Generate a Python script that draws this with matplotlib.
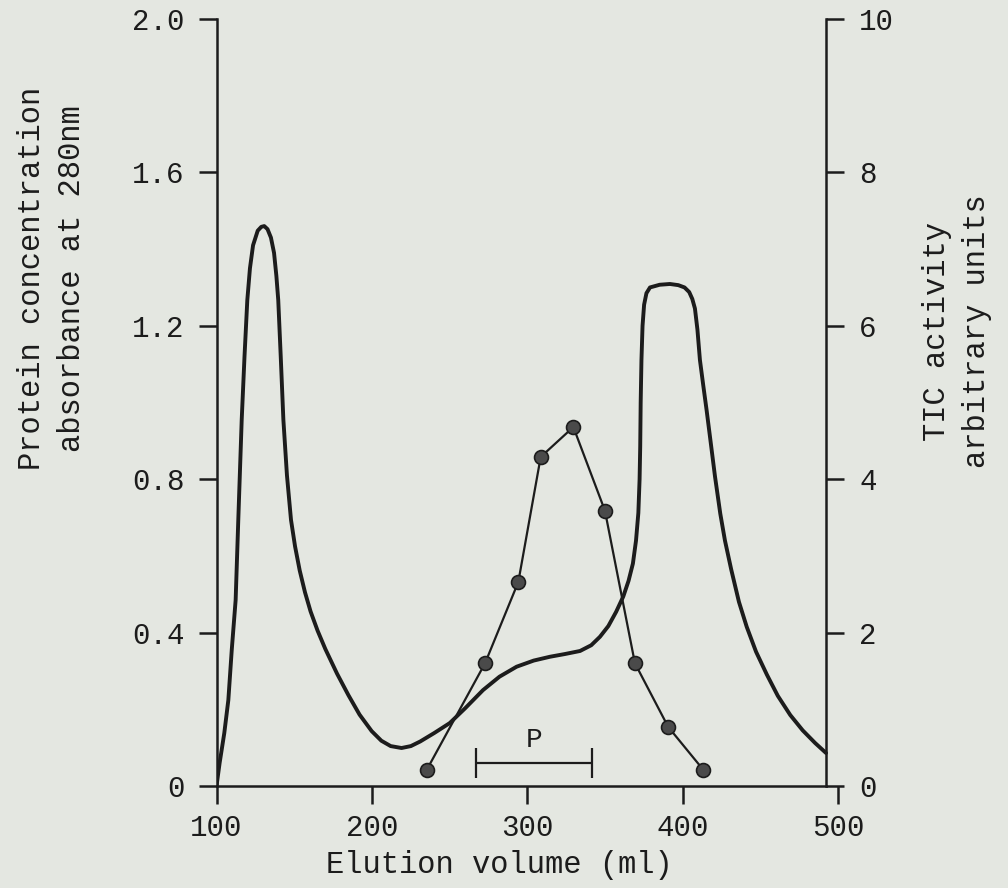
import numpy as np
import matplotlib.pyplot as plt

plt.rcParams['font.family'] = ['Liberation Mono', 'DejaVu Sans Mono']

# protein elution profile (absorbance at 280 nm)
elution_ml = [100, 102, 105, 107.6, 109.8, 112.3, 114.0, 116.2, 118.0, 119.8,
              121.5, 123.5, 126.5, 128.8, 130.7, 132.8, 135.0, 137.0, 138.5, 139.7,
              141.3, 143.0, 145.3, 147.9, 150.5, 153.5, 156.9, 160.5, 165.0, 170.0,
              177.5, 184.8, 192.0, 199.8, 206.0, 212.0, 219.0, 225.0, 231.0, 240.0,
              250.0, 260.0, 271.4, 282.0, 293.0, 304.0, 314.5, 324.0, 333.8, 341.0,
              346.6, 352.0, 357.0, 361.6, 365.0, 367.8, 369.8, 371.3, 372.1, 372.5,
              372.8, 373.3, 374.0, 375.0, 376.5, 378.8, 385.0, 391.6, 397.0, 401.0,
              404.0, 406.0, 407.7, 409.3, 410.9, 413.0, 415.2, 417.8, 420.6, 424.0,
              427.0, 431.0, 436.0, 441.0, 447.0, 454.0, 461.0, 469.0, 477.0, 485.0,
              492.0]
absorbance = [0, 0.06, 0.138, 0.224, 0.355, 0.485, 0.694, 0.955, 1.12, 1.267,
              1.35, 1.41, 1.448, 1.458, 1.46, 1.452, 1.43, 1.39, 1.33, 1.267,
              1.12, 0.955, 0.81, 0.694, 0.625, 0.562, 0.505, 0.455, 0.405, 0.357,
              0.293, 0.237, 0.186, 0.143, 0.118, 0.104, 0.099, 0.104, 0.116, 0.138,
              0.164, 0.203, 0.250, 0.285, 0.311, 0.327, 0.337, 0.344, 0.352, 0.367,
              0.389, 0.417, 0.454, 0.494, 0.535, 0.58, 0.64, 0.712, 0.80, 0.885,
              1.0, 1.111, 1.2, 1.255, 1.285, 1.300, 1.307, 1.309, 1.306, 1.300,
              1.288, 1.27, 1.245, 1.19, 1.111, 1.046, 0.980, 0.897, 0.807, 0.71,
              0.64, 0.565, 0.48, 0.415, 0.35, 0.29, 0.235, 0.185, 0.145, 0.112,
              0.086]

# TIC activity of the fractions
fraction_ml = [235.2, 272.7, 294.1, 308.5, 329.5, 349.8, 369.1, 390.5, 413.1]
activity = [0.21, 1.6, 2.66, 4.29, 4.68, 3.59, 1.6, 0.77, 0.21]

# pooled fractions
pool_ml = [266.9, 341.3]
pool_level = 0.061

x_ticks = [100, 200, 300, 400, 500]
left_ticks = [0, 0.4, 0.8, 1.2, 1.6, 2.0]
left_labels = ['0', '0.4', '0.8', '1.2', '1.6', '2.0']
right_ticks = [0, 2, 4, 6, 8, 10]

paper = '#e4e7e1'
ink = '#1c1c1c'

fig = plt.figure(figsize=(10.08, 8.88), dpi=100, facecolor=paper)
ax = fig.add_axes([0.2148, 0.1149, 0.617, 0.8637], facecolor=paper)
ax2 = ax.twinx()

ax.plot(elution_ml, absorbance, color=ink, lw=2.8, solid_capstyle='round',
        solid_joinstyle='round')

ax2.plot(fraction_ml, activity, color=ink, lw=1.6, marker='o', markersize=10,
         markerfacecolor='#4a4a4a', markeredgecolor=ink, markeredgewidth=1.2)

centre = (pool_ml[0] + pool_ml[1]) / 2
half = (pool_ml[1] - pool_ml[0]) / 2
ax.errorbar(centre, pool_level, xerr=half, fmt='none', ecolor=ink, elinewidth=1.6,
            capsize=11, capthick=1.6)
ax.text(centre, pool_level + 0.025, 'P', ha='center', va='bottom', fontsize=20,
        color=ink)

ax.set_xlim(100, 500)
ax.set_ylim(0, 2.0)
ax2.set_ylim(0, 10)

ax.set_xticks(x_ticks)
ax.set_yticks(left_ticks)
ax.set_yticklabels(left_labels)
ax2.set_yticks(right_ticks)

for a in (ax, ax2):
    a.spines['top'].set_visible(False)
    for s in a.spines.values():
        s.set_linewidth(1.8)
        s.set_color(ink)
ax.spines['right'].set_visible(False)
ax2.spines['left'].set_visible(False)
ax2.spines['bottom'].set_visible(False)
ax.spines['bottom'].set_bounds(100, 492)
ax2.spines['right'].set_position(('data', 492))

ax.tick_params(axis='both', direction='out', length=13, width=1.8, color=ink,
               labelsize=21, labelcolor=ink)
ax.tick_params(axis='y', pad=10)
ax.tick_params(axis='x', pad=7)
ax2.tick_params(axis='y', direction='out', length=13, width=1.8, color=ink,
                labelsize=21, labelcolor=ink, pad=11)

ax.set_xlabel('Elution volume (ml)', fontsize=22, color=ink)
ax.xaxis.set_label_coords(0.454, -0.083)

ax.set_ylabel('Protein concentration\nabsorbance at 280nm', fontsize=22,
              color=ink, linespacing=1.45)
ax.yaxis.set_label_coords(-0.208, 0.662)

ax2.set_ylabel('TIC activity\narbitrary units', fontsize=22, color=ink,
               linespacing=1.45, rotation=90)
ax2.yaxis.set_label_coords(1.134, 0.593)

fig.savefig('out.png', dpi=100, facecolor=paper)
